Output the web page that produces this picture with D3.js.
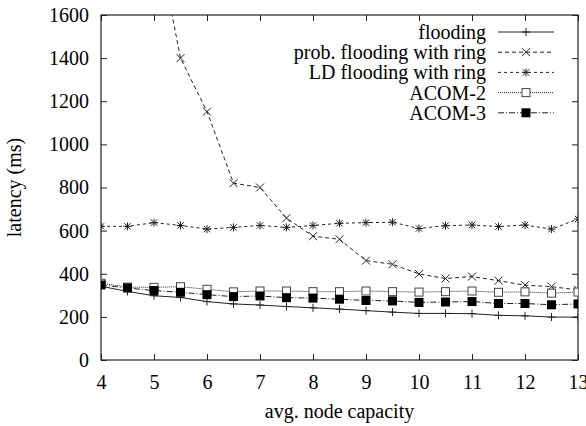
<!DOCTYPE html>
<html>
<head>
<meta charset="utf-8">
<script src="https://cdn.jsdelivr.net/npm/d3@7"></script>
<style>
  html, body { margin: 0; padding: 0; background: #fff; }
</style>
</head>
<body>
<svg id="chart" width="586" height="426"></svg>
<script>
// Average node capacity (x) and latency in ms for each scheme
const capacity = [4, 4.5, 5, 5.5, 6, 6.5, 7, 7.5, 8, 8.5, 9, 9.5, 10, 10.5, 11, 11.5, 12, 12.5, 13];
const flooding      = [342, 318, 298, 290, 271, 260, 255, 248, 242, 236, 229, 222, 216, 216, 215, 207, 205, 199, 199];
const probFlooding  = [2900, 2450, 2030, 1400, 1152, 820, 800, 658, 574, 560, 461, 444, 399, 378, 387, 368, 347, 340, 325];
const ldFlooding    = [620, 620, 637, 624, 607, 615, 624, 615, 624, 634, 637, 639, 610, 623, 626, 619, 626, 607, 654];
const acom2         = [356, 338, 337, 340, 328, 316, 320, 320, 317, 317, 320, 317, 315, 317, 320, 314, 316, 310, 315];
const acom3         = [348, 334, 322, 314, 303, 294, 297, 289, 287, 282, 276, 274, 267, 269, 271, 262, 262, 256, 260];

const xTicks = [4, 5, 6, 7, 8, 9, 10, 11, 12, 13];
const yTicks = [0, 200, 400, 600, 800, 1000, 1200, 1400, 1600];

const series = [
  { name: "flooding",                 values: flooding,     dash: null,          marker: "plus" },
  { name: "prob. flooding with ring", values: probFlooding, dash: "4,3",         marker: "cross" },
  { name: "LD flooding with ring",    values: ldFlooding,   dash: "3,3",         marker: "star" },
  { name: "ACOM-2",                   values: acom2,        dash: "1,1",         marker: "openSquare" },
  { name: "ACOM-3",                   values: acom3,        dash: "6,2,1,2",     marker: "filledSquare" }
];

const margin = { left: 101, right: 8, top: 15, bottom: 66 };
const W = 586, H = 426;
const FONT = "Liberation Serif";
const fontSize = 20;
const svg = d3.select("#chart").attr("font-family", FONT);

const x = d3.scaleLinear().domain([4, 13]).range([margin.left, W - margin.right]);
const y = d3.scaleLinear().domain([0, 1600]).range([H - margin.bottom, margin.top]);

const ink = "#222";

svg.append("defs").append("clipPath").attr("id", "plotClip")
  .append("rect")
  .attr("x", x(4)).attr("y", y(1600))
  .attr("width", x(13) - x(4)).attr("height", y(0) - y(1600));

// Axes with inward ticks, mirrored on the top and right edges
const tickLen = 6;
const bottomAxis = d3.axisBottom(x).tickValues(xTicks).tickFormat(d3.format("d"))
  .tickSizeInner(-tickLen).tickSizeOuter(0).tickPadding(15);
const leftAxis = d3.axisLeft(y).tickValues(yTicks).tickFormat(d3.format("d"))
  .tickSizeInner(-tickLen).tickSizeOuter(0).tickPadding(12);

const gx = svg.append("g").attr("transform", `translate(0,${y(0)})`).call(bottomAxis);
const gy = svg.append("g").attr("transform", `translate(${x(4)},0)`).call(leftAxis);
const gTop = svg.append("g").attr("transform", `translate(0,${y(1600)})`)
  .call(d3.axisTop(x).tickValues(xTicks).tickSizeInner(-tickLen).tickSizeOuter(0).tickFormat(""));
const gRight = svg.append("g").attr("transform", `translate(${x(13)},0)`)
  .call(d3.axisRight(y).tickValues(yTicks).tickSizeInner(-tickLen).tickSizeOuter(0).tickFormat(""));

[gx, gy, gTop, gRight].forEach(g => {
  g.attr("font-family", FONT).attr("font-size", fontSize);
  g.select(".domain").remove();
  g.selectAll(".tick line").attr("stroke", ink).attr("stroke-width", 1);
  g.selectAll(".tick text").attr("font-family", FONT).attr("font-size", fontSize).attr("fill", "#000");
});
gx.selectAll(".tick text").attr("dy", "0.71em");

svg.append("rect")
  .attr("x", x(4)).attr("y", y(1600))
  .attr("width", x(13) - x(4)).attr("height", y(0) - y(1600))
  .attr("fill", "none").attr("stroke", ink).attr("stroke-width", 1.2);

// Axis titles
svg.append("text")
  .attr("x", (x(4) + x(13)) / 2).attr("y", 418)
  .attr("text-anchor", "middle").attr("font-family", FONT).attr("font-size", fontSize)
  .text("avg. node capacity");
svg.append("text")
  .attr("transform", `translate(21,${(y(0) + y(1600)) / 2}) rotate(-90)`)
  .attr("text-anchor", "middle").attr("font-family", FONT).attr("font-size", fontSize)
  .text("latency (ms)");

// Point symbols
function drawMarker(g, type, cx, cy) {
  const s = 4;
  const stroke = ink;
  if (type === "plus" || type === "star") {
    g.append("path").attr("d", `M${cx - s},${cy}H${cx + s}M${cx},${cy - s}V${cy + s}`)
      .attr("stroke", stroke).attr("stroke-width", 1).attr("fill", "none");
  }
  if (type === "cross" || type === "star") {
    const k = type === "star" ? 3.2 : 4;
    g.append("path").attr("d", `M${cx - k},${cy - k}L${cx + k},${cy + k}M${cx - k},${cy + k}L${cx + k},${cy - k}`)
      .attr("stroke", stroke).attr("stroke-width", 1).attr("fill", "none");
  }
  if (type === "openSquare") {
    g.append("rect").attr("x", cx - 4).attr("y", cy - 4).attr("width", 8).attr("height", 8)
      .attr("fill", "#fff").attr("stroke", "#444").attr("stroke-width", 1);
  }
  if (type === "filledSquare") {
    g.append("rect").attr("x", cx - 4.5).attr("y", cy - 4.5).attr("width", 9).attr("height", 9)
      .attr("fill", "#000").attr("stroke", "none");
  }
}

const plot = svg.append("g").attr("clip-path", "url(#plotClip)");
const line = d3.line().x((d, i) => x(capacity[i])).y(d => y(d));

series.forEach(s => {
  plot.append("path")
    .datum(s.values)
    .attr("d", line)
    .attr("fill", "none")
    .attr("stroke", ink)
    .attr("stroke-width", 1)
    .attr("stroke-dasharray", s.dash);
  const mg = plot.append("g");
  s.values.forEach((v, i) => {
    if (v <= 1600) drawMarker(mg, s.marker, x(capacity[i]), y(v));
  });
});

// Legend
const legend = svg.append("g");
const legX = 486, legY0 = 32, legStep = 20.2;
series.forEach((s, i) => {
  const ly = legY0 + i * legStep;
  legend.append("text")
    .attr("x", legX).attr("y", ly).attr("dy", "0.35em")
    .attr("text-anchor", "end").attr("font-family", FONT).attr("font-size", fontSize)
    .text(s.name);
  legend.append("line")
    .attr("x1", 498).attr("x2", 554).attr("y1", ly).attr("y2", ly)
    .attr("stroke", ink).attr("stroke-width", 1)
    .attr("stroke-dasharray", s.dash);
  drawMarker(legend, s.marker, 526, ly);
});
</script>
</body>
</html>
